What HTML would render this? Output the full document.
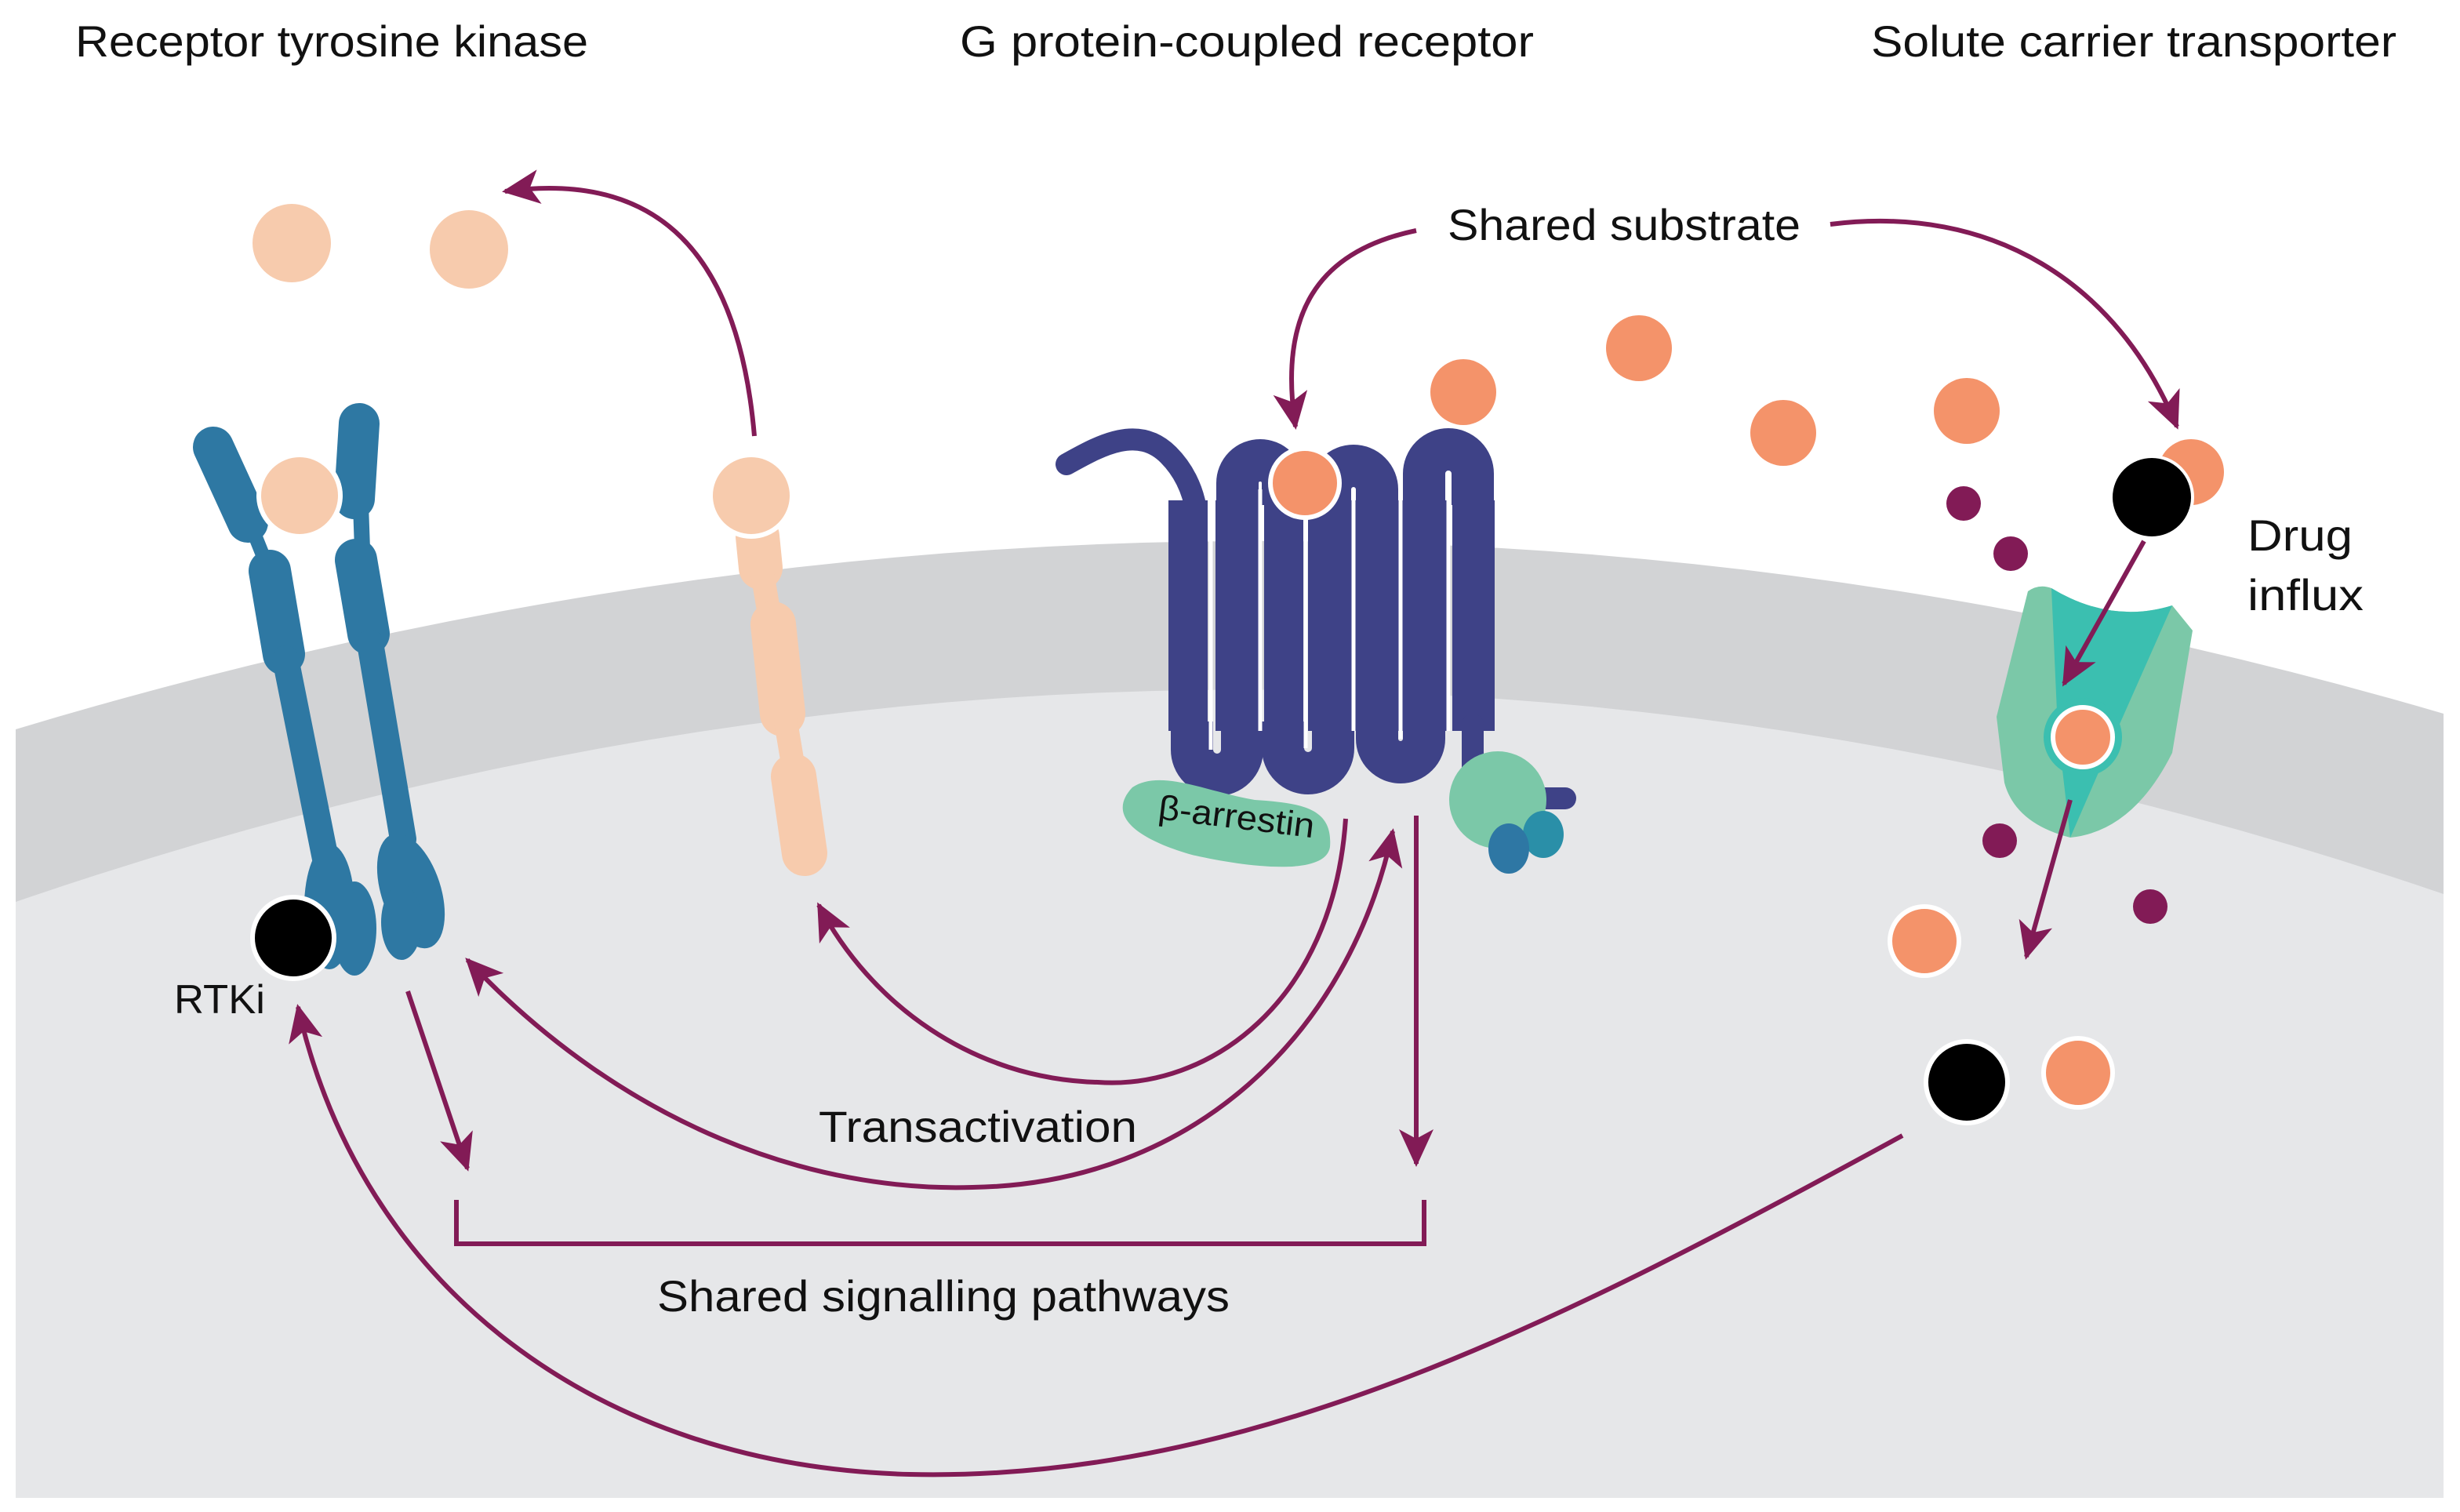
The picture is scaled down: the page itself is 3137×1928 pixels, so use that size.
<!DOCTYPE html>
<html><head><meta charset="utf-8"><style>html,body{margin:0;padding:0;background:#fff}svg{display:block}text{font-family:"Liberation Sans",sans-serif;fill:#111}</style></head>
<body>
<svg width="3137" height="1928" viewBox="0 0 1568.5 964" xmlns="http://www.w3.org/2000/svg">
<defs>
<marker id="ah" markerUnits="userSpaceOnUse" markerWidth="26" markerHeight="22" refX="22" refY="11" orient="auto-start-reverse" viewBox="0 0 26 22">
<path d="M0,0 L24,11 L0,22 L6,11 Z" fill="#821b56"/></marker>
</defs>
<rect width="1568.5" height="964" fill="#fff"/>
<path d="M10,465 Q790,230 1558,455 L1558,955 L10,955 Z" fill="#d2d3d5"/>
<path d="M10,575 Q790,307 1558,570 L1558,955 L10,955 Z" fill="#e6e7e9"/>

<!-- Titles -->
<text x="48" y="36" font-size="28" textLength="327" lengthAdjust="spacingAndGlyphs">Receptor tyrosine kinase</text>
<text x="612" y="36" font-size="28" textLength="366" lengthAdjust="spacingAndGlyphs">G protein-coupled receptor</text>
<text x="1193" y="36" font-size="28" textLength="335" lengthAdjust="spacingAndGlyphs">Solute carrier transporter</text>

<!-- RTK -->
<g stroke="#2e78a3" stroke-linecap="round" fill="none">
<line x1="136" y1="285" x2="158" y2="333" stroke-width="26"/>
<line x1="160" y1="335" x2="172" y2="365" stroke-width="9"/>
<line x1="172" y1="364" x2="181" y2="417" stroke-width="27"/>
<line x1="182" y1="420" x2="208" y2="550" stroke-width="17"/>
<line x1="229" y1="270" x2="226" y2="318" stroke-width="26"/>
<line x1="230" y1="322" x2="231" y2="350" stroke-width="10"/>
<line x1="227" y1="357" x2="235" y2="404" stroke-width="27"/>
<line x1="236" y1="410" x2="257" y2="535" stroke-width="17"/>
</g>
<g fill="#2e78a3">
<ellipse cx="210" cy="578" rx="16" ry="40"/>
<ellipse cx="226" cy="592" rx="14" ry="30"/>
<ellipse cx="262" cy="568" rx="19" ry="38" transform="rotate(-18 262 568)"/>
<ellipse cx="256" cy="588" rx="13" ry="24"/>
</g>
<circle cx="191" cy="316" r="26" fill="#f7cbad" stroke="#fff" stroke-width="3"/>
<circle cx="187" cy="598" r="26" fill="#000" stroke="#fff" stroke-width="3"/>
<text x="111" y="646" font-size="26" textLength="58" lengthAdjust="spacingAndGlyphs">RTKi</text>

<!-- peach receptor -->
<g stroke="#f7cbad" stroke-linecap="round" fill="none">
<line x1="483" y1="342" x2="485" y2="362" stroke-width="28"/>
<line x1="486" y1="365" x2="491" y2="395" stroke-width="15"/>
<line x1="493" y1="398" x2="499" y2="455" stroke-width="29"/>
<line x1="501" y1="460" x2="506" y2="490" stroke-width="15"/>
<line x1="506" y1="495" x2="513" y2="544" stroke-width="29"/>
</g>
<circle cx="479" cy="316" r="26" fill="#f7cbad" stroke="#fff" stroke-width="3"/>
<circle cx="186" cy="155" r="25" fill="#f7cbad"/>
<circle cx="299" cy="159" r="25" fill="#f7cbad"/>

<!-- GPCR -->
<g fill="none" stroke="#3e4287" stroke-width="14" stroke-linecap="round">
<path d="M680,296 C700,285 725,270 745,290 C755,300 760,312 762,322"/>
</g>
<g fill="#3e4287">
<rect x="745" y="319" width="25" height="147"/>
<rect x="775" y="319" width="28" height="147"/>
<rect x="806" y="319" width="25" height="147"/>
<rect x="834" y="319" width="28" height="147"/>
<rect x="864" y="319" width="28" height="147"/>
<rect x="894" y="319" width="29" height="147"/>
<rect x="926" y="319" width="27" height="147"/>
</g>
<g fill="none" stroke="#3e4287" stroke-width="27">
<path d="M789,322 L789,308 A14.5,14.5 0 0 1 818,308 L818,322"/>
<path d="M848,322 L848,312 A15,15 0 0 1 878,312 L878,322"/>
<path d="M908,322 L908,302 A15,15 0 0 1 939,302 L939,322"/>
<path d="M760,460 L760,478 A16,16 0 0 0 792,478 L792,460"/>
<path d="M818,460 L818,477 A16,16 0 0 0 850,477 L850,460"/>
<path d="M878,460 L878,471 A15,15 0 0 0 908,471 L908,460"/>
</g>
<g stroke="#fff" stroke-width="2.5">
<line x1="803.5" y1="312" x2="803.5" y2="466"/>
<line x1="863" y1="314" x2="863" y2="466"/>
<line x1="923.5" y1="306" x2="923.5" y2="466"/>
<line x1="772" y1="319" x2="772" y2="478"/>
<line x1="832.5" y1="319" x2="832.5" y2="477"/>
<line x1="893" y1="319" x2="893" y2="471"/>
</g>
<path d="M939,462 L939,490 Q942,509 960,509 L998,509" fill="none" stroke="#3e4287" stroke-width="14" stroke-linecap="round"/>
<circle cx="832" cy="308" r="22" fill="#f4936a" stroke="#fff" stroke-width="3"/>
<path d="M722,502 C740,490 770,505 800,510 C830,512 850,515 848,540 C845,560 790,552 760,545 C725,535 705,520 722,502 Z" fill="#7bc8a8"/>
<text x="738" y="528" font-size="22" textLength="100" lengthAdjust="spacingAndGlyphs" transform="rotate(7 787 524)">β-arrestin</text>
<circle cx="955" cy="510" r="31" fill="#7bc8a8"/>
<ellipse cx="984" cy="532" rx="13" ry="15" fill="#2a8fa8"/>
<ellipse cx="962" cy="541" rx="13" ry="16" fill="#2e77a4"/>

<!-- substrates -->
<g fill="#f4936a">
<circle cx="933" cy="250" r="21"/><circle cx="1045" cy="222" r="21"/>
<circle cx="1137" cy="276" r="21"/><circle cx="1254" cy="262" r="21"/>
<circle cx="1397" cy="301" r="21"/>
</g>
<text x="923" y="153" font-size="28" textLength="225" lengthAdjust="spacingAndGlyphs">Shared substrate</text>
<text x="1433" y="351" font-size="28" textLength="67" lengthAdjust="spacingAndGlyphs">Drug</text>
<text x="1433" y="389" font-size="28" textLength="74" lengthAdjust="spacingAndGlyphs">influx</text>

<!-- SLC transporter -->
<path d="M1293,377 Q1300,372 1308,375 Q1346,398 1385,386 L1398,402 L1385,480 Q1360,530 1320,534 Q1285,525 1278,499 L1273,457 Z" fill="#7bc8a8"/>
<path d="M1308,375 Q1346,398 1385,386 L1350,465 L1320,534 L1312,465 Z" fill="#3bbfb0"/>
<circle cx="1328" cy="470" r="25" fill="#3bbfb0"/>
<circle cx="1328" cy="470" r="19" fill="#f4936a" stroke="#fff" stroke-width="3"/>
<circle cx="1372" cy="317" r="26" fill="#000" stroke="#fff" stroke-width="2"/>
<g fill="#821b56">
<circle cx="1252" cy="321" r="11"/><circle cx="1282" cy="353" r="11"/>
<circle cx="1275" cy="536" r="11"/><circle cx="1371" cy="578" r="11"/>
</g>
<circle cx="1227" cy="600" r="22" fill="#f4936a" stroke="#fff" stroke-width="3"/>
<circle cx="1325" cy="684" r="22" fill="#f4936a" stroke="#fff" stroke-width="3"/>
<circle cx="1254" cy="690" r="26" fill="#000" stroke="#fff" stroke-width="3"/>

<!-- arrows -->
<g fill="none" stroke="#821b56" stroke-width="3">
<path d="M481,278 C470,150 410,110 322,122" marker-end="url(#ah)"/>
<path d="M903,147 C840,160 815,200 826,272" marker-end="url(#ah)"/>
<path d="M1167,143 C1270,130 1350,180 1388,272" marker-end="url(#ah)"/>
<path d="M1367,345 L1316,436" marker-end="url(#ah)"/>
<path d="M1320,510 L1292,610" marker-end="url(#ah)"/>
<path d="M260,632 L298,745" marker-end="url(#ah)"/>
<path d="M903,520 L903,742" marker-end="url(#ah)"/>
<path d="M291,765 L291,793 L908,793 L908,765"/>
<path d="M858,522 C850,640 770,695 700,690 C620,688 555,640 522,577" marker-end="url(#ah)"/>
<path d="M298,612 C400,720 520,760 620,757 C760,755 860,660 888,530" marker-start="url(#ah)" marker-end="url(#ah)"/>
<path d="M1213,724 C1000,840 800,945 580,940 C380,935 230,820 190,642" marker-end="url(#ah)"/>
</g>
<text x="522" y="728" font-size="28" textLength="203" lengthAdjust="spacingAndGlyphs">Transactivation</text>
<text x="419" y="836" font-size="28" textLength="365" lengthAdjust="spacingAndGlyphs">Shared signalling pathways</text>
</svg>
</body></html>
